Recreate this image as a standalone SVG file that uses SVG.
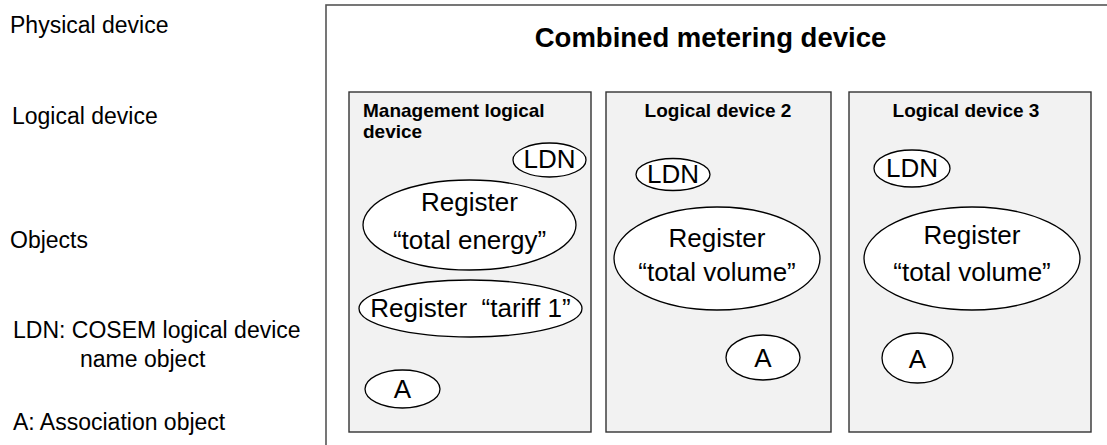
<svg xmlns="http://www.w3.org/2000/svg" width="1107" height="445" viewBox="0 0 1107 445">
<style>
text{font-family:"Liberation Sans",Arial,sans-serif;fill:#000}
.lbl{font-size:23px}
.title{font-size:27.5px;font-weight:bold;text-anchor:middle}
.bt{font-size:19px;font-weight:bold}
.btc{font-size:19px;font-weight:bold;text-anchor:middle}
.ot{font-size:26px;text-anchor:middle}
.box{fill:#f2f2f2;stroke:#333;stroke-width:1.4}
.ell{fill:#fff;stroke:#000;stroke-width:1.3}
.outer{fill:#fff;stroke:#555;stroke-width:1.6}
</style>
<rect width="1107" height="445" fill="#fff"/>
<g id="legend">
<text class="lbl" x="10" y="33">Physical device</text>
<text class="lbl" x="12" y="124">Logical device</text>
<text class="lbl" x="10" y="248">Objects</text>
<text class="lbl" x="13" y="338">LDN: COSEM logical device</text>
<text class="lbl" x="80" y="367">name object</text>
<text class="lbl" x="13" y="430">A: Association object</text>
</g>
<g id="physical-device">
<rect class="outer" x="326" y="5" width="820" height="470"/>
<text class="title" x="710.5" y="47">Combined metering device</text>
</g>
<g id="management-logical-device">
<rect class="box" x="349" y="92" width="242" height="340"/>
<text class="bt" x="363" y="117">Management logical</text>
<text class="bt" x="363" y="138">device</text>
<g id="ld1-ldn"><ellipse class="ell" cx="549.5" cy="160" rx="36.5" ry="17"/><text class="ot" x="549.5" y="168">LDN</text></g>
<g id="ld1-reg-energy"><ellipse class="ell" cx="469.5" cy="225" rx="106.5" ry="45"/><text class="ot" x="469.5" y="211">Register</text><text class="ot" x="469.5" y="249">“total energy”</text></g>
<g id="ld1-reg-tariff"><ellipse class="ell" cx="470.5" cy="308.5" rx="111.5" ry="28.5"/><text class="ot" x="470.5" y="317" xml:space="preserve">Register  “tariff 1”</text></g>
<g id="ld1-a"><ellipse class="ell" cx="402.5" cy="389" rx="37.5" ry="19"/><text class="ot" x="402.5" y="398">A</text></g>
</g>
<g id="logical-device-2">
<rect class="box" x="606" y="92" width="225" height="340"/>
<text class="btc" x="718" y="117">Logical device 2</text>
<g id="ld2-ldn"><ellipse class="ell" cx="673" cy="174.5" rx="37" ry="16"/><text class="ot" x="673" y="183">LDN</text></g>
<g id="ld2-reg"><ellipse class="ell" cx="717" cy="258.5" rx="103" ry="51.5"/><text class="ot" x="717" y="247">Register</text><text class="ot" x="717" y="281">“total volume”</text></g>
<g id="ld2-a"><ellipse class="ell" cx="763" cy="357.5" rx="37" ry="22.5"/><text class="ot" x="763" y="367">A</text></g>
</g>
<g id="logical-device-3">
<rect class="box" x="849" y="92" width="242" height="340"/>
<text class="btc" x="966" y="117">Logical device 3</text>
<g id="ld3-ldn"><ellipse class="ell" cx="912" cy="168.5" rx="38" ry="18.5"/><text class="ot" x="912" y="177">LDN</text></g>
<g id="ld3-reg"><ellipse class="ell" cx="972" cy="258.5" rx="108" ry="51.5"/><text class="ot" x="972" y="244">Register</text><text class="ot" x="972" y="281">“total volume”</text></g>
<g id="ld3-a"><ellipse class="ell" cx="917.5" cy="358" rx="35.5" ry="25"/><text class="ot" x="917.5" y="368">A</text></g>
</g>
<g id="connectors"/>
</svg>
